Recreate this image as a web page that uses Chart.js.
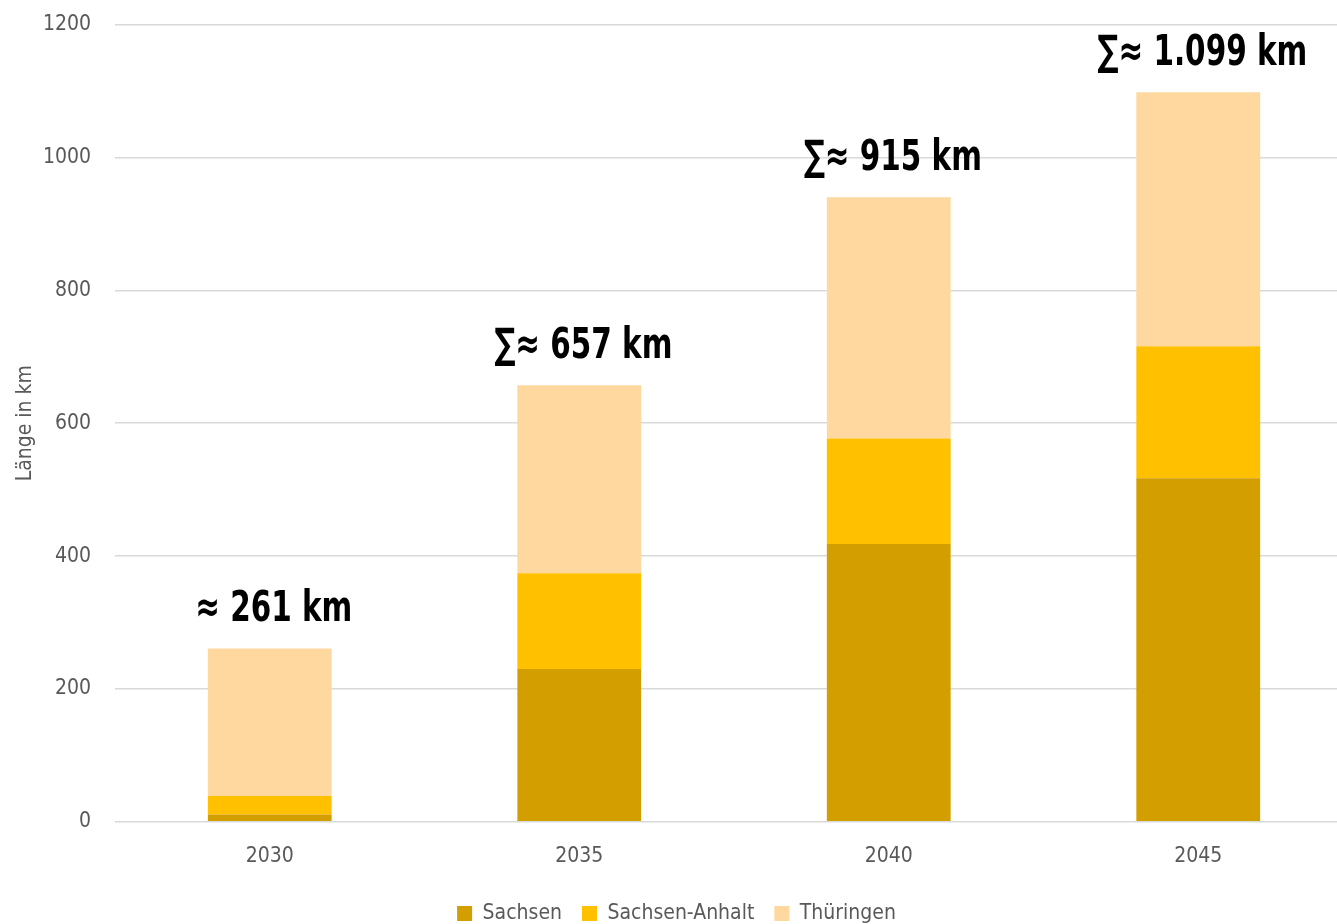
<!DOCTYPE html>
<html>
<head>
<meta charset="utf-8">
<script src="https://cdn.jsdelivr.net/npm/chart.js@4"></script>
<style>
  html, body { margin: 0; padding: 0; background: #fff; overflow: hidden; }
  #wrap { width: 1353px; height: 946px; margin-top: -12px; }
</style>
</head>
<body>
<div id="wrap"><canvas id="chart"></canvas></div>
<script>
// Werte (km)
const years = ['2030', '2035', '2040', '2045'];
const sachsen = [11, 230, 418, 517];
const sachsenAnhalt = [28, 144, 159, 199];
const thueringen = [222, 283, 363, 382];
const totalLabels = ['≈ 261 km', '∑≈ 657 km', '∑≈ 915 km', '∑≈ 1.099 km'];
const yTicks = [0, 200, 400, 600, 800, 1000, 1200];

const FONT = "'Liberation Sans Narrow', 'DejaVu Sans Condensed', sans-serif";

// Summen-Beschriftung über den Säulen
const totalsPlugin = {
  id: 'totals',
  afterDatasetsDraw(chart) {
    const ctx = chart.ctx;
    const meta = chart.getDatasetMeta(chart.data.datasets.length - 1);
    ctx.save();
    ctx.font = "bold 42px 'DejaVu Sans Condensed', sans-serif";
    ctx.fillStyle = '#000';
    ctx.textAlign = 'center';
    ctx.textBaseline = 'middle';
    meta.data.forEach((bar, i) => {
      ctx.save();
      ctx.translate(bar.x + 4, bar.y - 38);
      ctx.scale(0.78, 1);
      ctx.fillText(totalLabels[i], 0, 0);
      ctx.restore();
    });
    ctx.restore();
  }
};

new Chart(document.getElementById('chart'), {
  type: 'bar',
  data: {
    labels: years,
    datasets: [
      { label: 'Sachsen', data: sachsen, backgroundColor: '#D39E00' },
      { label: 'Sachsen-Anhalt', data: sachsenAnhalt, backgroundColor: '#FFC000' },
      { label: 'Thüringen', data: thueringen, backgroundColor: '#FED89F' }
    ]
  },
  options: {
    responsive: true,
    maintainAspectRatio: false,
    animation: false,
    layout: { padding: 0 },
    datasets: { bar: { barPercentage: 0.5, categoryPercentage: 0.8 } },
    scales: {
      x: {
        stacked: true,
        grid: { display: false },
        border: { color: '#d9d9d9' },
        ticks: { color: '#595959', font: { family: FONT, size: 21 }, padding: 14 }
      },
      y: {
        stacked: true,
        min: 0,
        max: 1200,
        afterBuildTicks(scale) { scale.ticks = yTicks.map(v => ({ value: v })); },
        afterFit(scale) { scale.width = 115; },
        grid: { color: '#d9d9d9', lineWidth: 1.5, drawTicks: false },
        border: { display: false },
        ticks: { color: '#595959', font: { family: FONT, size: 21 }, padding: 24, callback: v => String(v) },
        title: { display: true, text: 'Länge in km', color: '#595959', font: { family: FONT, size: 21 }, padding: { top: 13, bottom: 0 } }
      }
    },
    plugins: {
      legend: {
        position: 'bottom',
        labels: {
          color: '#595959',
          font: { family: FONT, size: 21 },
          boxWidth: 15,
          boxHeight: 15,
          padding: 20
        }
      },
      tooltip: { enabled: false }
    }
  },
  plugins: [totalsPlugin]
});
</script>
</body>
</html>
